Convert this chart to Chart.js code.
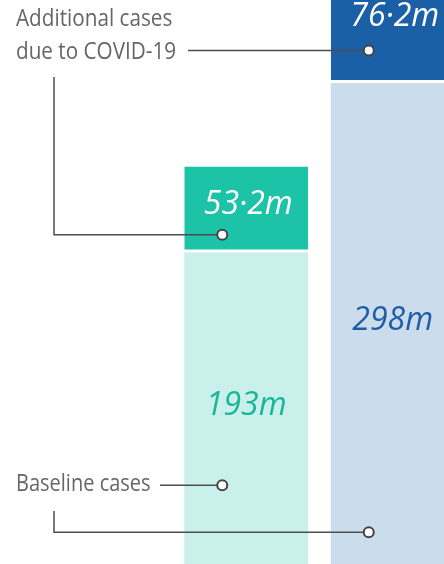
<!DOCTYPE html>
<html>
<head>
<meta charset="utf-8">
<script src="https://cdn.jsdelivr.net/npm/chart.js@4"></script>
<style>
  html, body { margin: 0; padding: 0; background: #fff; overflow: hidden; }
  #wrap { position: absolute; left: 0; top: 0; width: 466px; height: 564px; }
</style>
</head>
<body>
<div id="wrap"><canvas id="chart"></canvas></div>
<script>
// Prevalent cases in millions: baseline plus extra cases due to COVID-19
const groups = ['Major depressive disorder', 'Anxiety disorders'];
const baselineCases = [193, 298];
const covidCases = [53.2, 76.2];

const strongColors = ['#1dc3a6', '#1b5fa7'];
const paleColors = ['#c9f0ea', '#cbdcec'];
const paleTextColors = ['#17b898', '#1f5ea6'];

// where the callout dots sit on each segment (y axis units)
const covidDotAt = [204, 318];
const baselineDotAt = [49, 20];

const fmt = v => (Number.isInteger(v) ? String(v) : v.toFixed(1).replace('.', '·')) + 'm';

function squeezed(ctx, txt, x, y, sx) {
  ctx.save();
  ctx.translate(x, y);
  ctx.scale(sx, 1);
  ctx.fillText(txt, 0, 0);
  ctx.restore();
}

function dot(ctx, x, y) {
  ctx.beginPath();
  ctx.arc(x, y, 5, 0, Math.PI * 2);
  ctx.fillStyle = '#fff';
  ctx.fill();
  ctx.lineWidth = 2;
  ctx.strokeStyle = '#444';
  ctx.stroke();
}

function line(ctx, pts) {
  ctx.beginPath();
  ctx.moveTo(pts[0][0], pts[0][1]);
  for (let i = 1; i < pts.length; i++) ctx.lineTo(pts[i][0], pts[i][1]);
  ctx.lineWidth = 1.5;
  ctx.strokeStyle = '#4d4d4d';
  ctx.stroke();
}

const callouts = {
  id: 'callouts',
  afterDatasetsDraw(chart) {
    const ctx = chart.ctx;
    const y = chart.scales.y;
    const base = chart.getDatasetMeta(0).data;
    const extra = chart.getDatasetMeta(1).data;

    ctx.save();
    ctx.textAlign = 'center';
    ctx.textBaseline = 'middle';

    // value labels inside the segments
    ctx.font = 'italic 500 32px "Open Sans"';
    base.forEach((el, i) => {
      ctx.fillStyle = paleTextColors[i];
      squeezed(ctx, fmt(baselineCases[i]), el.x, (el.y + el.base) / 2 - 3, 1.0);
    });
    extra.forEach((el, i) => {
      ctx.fillStyle = '#fff';
      squeezed(ctx, fmt(covidCases[i]), el.x + 2, (el.y + el.base - 3) / 2 - 3, 1.0);
    });

    const dx = el => el.x - 24;
    const cy = covidDotAt.map(v => y.getPixelForValue(v));
    const by = baselineDotAt.map(v => y.getPixelForValue(v));

    // leader lines
    line(ctx, [[188, cy[1]], [dx(extra[1]), cy[1]]]);
    line(ctx, [[54, 77], [54, cy[0]], [dx(extra[0]), cy[0]]]);
    line(ctx, [[160, by[0]], [dx(base[0]), by[0]]]);
    line(ctx, [[54, 511], [54, by[1]], [dx(base[1]), by[1]]]);

    dot(ctx, dx(extra[1]), cy[1]);
    dot(ctx, dx(extra[0]), cy[0]);
    dot(ctx, dx(base[0]), by[0]);
    dot(ctx, dx(base[1]), by[1]);

    // series names
    ctx.textAlign = 'left';
    ctx.textBaseline = 'alphabetic';
    ctx.fillStyle = '#666';
    ctx.font = '23px "Open Sans"';
    squeezed(ctx, 'Additional cases', 16, 26, 0.9);
    squeezed(ctx, 'due to COVID-19', 16, 59, 0.9);
    squeezed(ctx, 'Baseline cases', 16, 491, 0.87);
    ctx.restore();
  }
};

new Chart(document.getElementById('chart'), {
  type: 'bar',
  data: {
    labels: groups,
    datasets: [
      {
        label: 'Baseline cases',
        data: baselineCases,
        backgroundColor: paleColors,
        borderWidth: 0
      },
      {
        label: 'Additional cases due to COVID-19',
        data: covidCases,
        backgroundColor: strongColors,
        borderColor: '#fff',
        borderWidth: { top: 0, left: 0, right: 0, bottom: 3 },
        borderSkipped: false
      }
    ]
  },
  options: {
    responsive: true,
    maintainAspectRatio: false,
    animation: false,
    layout: { padding: { left: 173, right: 0, top: 0, bottom: 0 } },
    datasets: { bar: { categoryPercentage: 1, barPercentage: 0.846 } },
    scales: {
      x: { stacked: true, display: false },
      y: { stacked: true, display: false, min: 0.3, max: 349.3 }
    },
    plugins: { legend: { display: false }, tooltip: { enabled: false } }
  },
  plugins: [callouts]
});
</script>
</body>
</html>
